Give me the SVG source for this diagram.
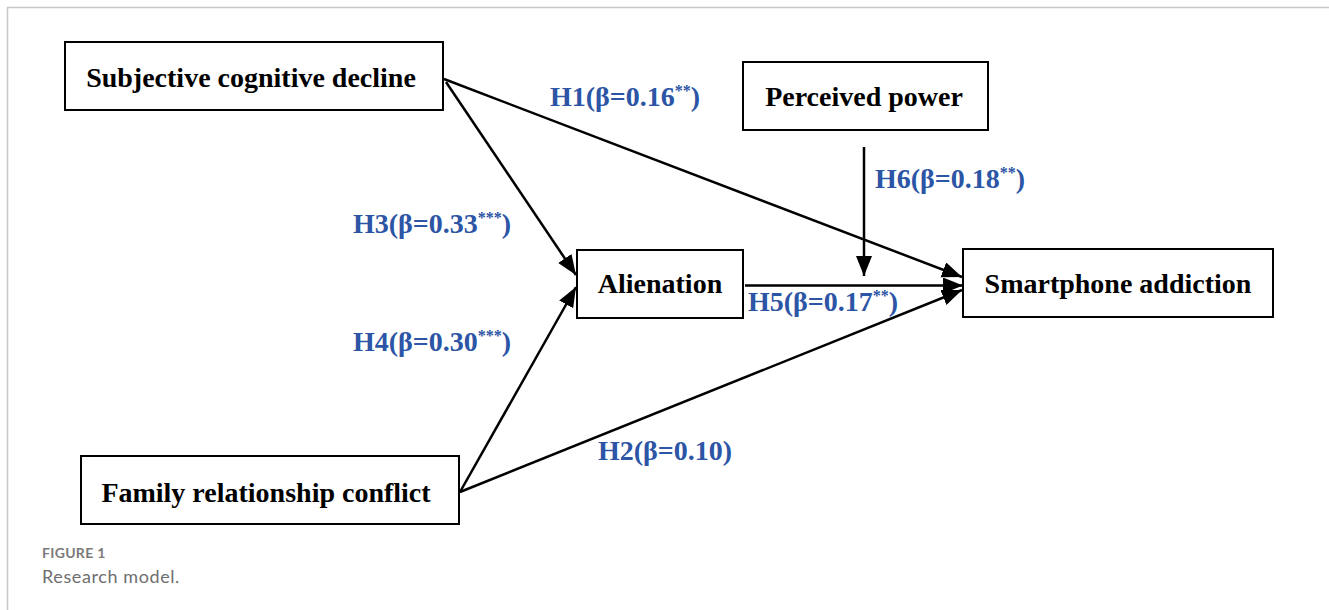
<svg xmlns="http://www.w3.org/2000/svg" width="1329" height="610" viewBox="0 0 1329 610">
<style>
.box{fill:#fff;stroke:#000;stroke-width:2}
.nt{font-family:"Liberation Serif","Times New Roman",serif;font-weight:bold;font-size:28px;fill:#000;text-anchor:middle}
.lb{font-family:"Liberation Serif","Times New Roman",serif;font-weight:bold;font-size:28px;fill:#2c55a5}
.sup{font-size:16px}
.edge{stroke:#000;stroke-width:2.5;fill:none;marker-end:url(#ah)}
.frame{stroke:#c8c8c8;stroke-width:1.5;fill:none}
</style>
<defs>
<marker id="ah" markerUnits="userSpaceOnUse" markerWidth="22" markerHeight="18" refX="20" refY="8" orient="auto">
<path d="M0,0 L20,8 L0,16 z" fill="#000"/>
</marker>
</defs>
<rect width="1329" height="610" fill="#fff"/>
<path class="frame" d="M7.5,610 V7.5 H1329"/>
<g id="connectors">
<line class="edge" x1="444" y1="79" x2="962" y2="277"/>
<line class="edge" x1="446" y1="82" x2="576" y2="275"/>
<line class="edge" x1="460" y1="492" x2="576" y2="287"/>
<line class="edge" x1="460" y1="492" x2="962" y2="290"/>
<line class="edge" x1="745" y1="285.5" x2="963" y2="285.5"/>
<line class="edge" x1="864" y1="147" x2="864" y2="276"/>
</g>
<g id="labels">
<text class="lb" x="550" y="106">H1(β=0.16<tspan class="sup" dy="-10">**</tspan><tspan dy="10">)</tspan></text>
<text class="lb" x="353" y="233">H3(β=0.33<tspan class="sup" dy="-10">***</tspan><tspan dy="10">)</tspan></text>
<text class="lb" x="353" y="351">H4(β=0.30<tspan class="sup" dy="-10">***</tspan><tspan dy="10">)</tspan></text>
<text class="lb" x="598" y="460">H2(β=0.10)</text>
<text class="lb" x="748" y="311">H5(β=0.17<tspan class="sup" dy="-10">**</tspan><tspan dy="10">)</tspan></text>
<text class="lb" x="875" y="188">H6(β=0.18<tspan class="sup" dy="-10">**</tspan><tspan dy="10">)</tspan></text>
</g>
<g id="node-scd">
<rect class="box" x="65" y="42" width="378" height="68"/>
<text class="nt" x="251" y="87">Subjective cognitive decline</text>
</g>
<g id="node-frc">
<rect class="box" x="81" y="456" width="378" height="68"/>
<text class="nt" x="266" y="502">Family relationship conflict</text>
</g>
<g id="node-alienation">
<rect class="box" x="577" y="250" width="166" height="68"/>
<text class="nt" x="660" y="293">Alienation</text>
</g>
<g id="node-sa">
<rect class="box" x="963" y="249" width="310" height="68"/>
<text class="nt" x="1118" y="293">Smartphone addiction</text>
</g>
<g id="node-pp">
<rect class="box" x="743" y="62" width="245" height="68"/>
<text class="nt" x="864" y="106">Perceived power</text>
</g>
<g id="caption">
<text x="42" y="558" font-family="Lato,'Open Sans',sans-serif" font-weight="bold" font-size="14" letter-spacing="0.3" fill="#7a7a7a">FIGURE 1</text>
<text x="42" y="583" font-family="Lato,'Open Sans',sans-serif" font-size="18" letter-spacing="0.6" fill="#6e6e6e">Research model.</text>
</g>
</svg>
